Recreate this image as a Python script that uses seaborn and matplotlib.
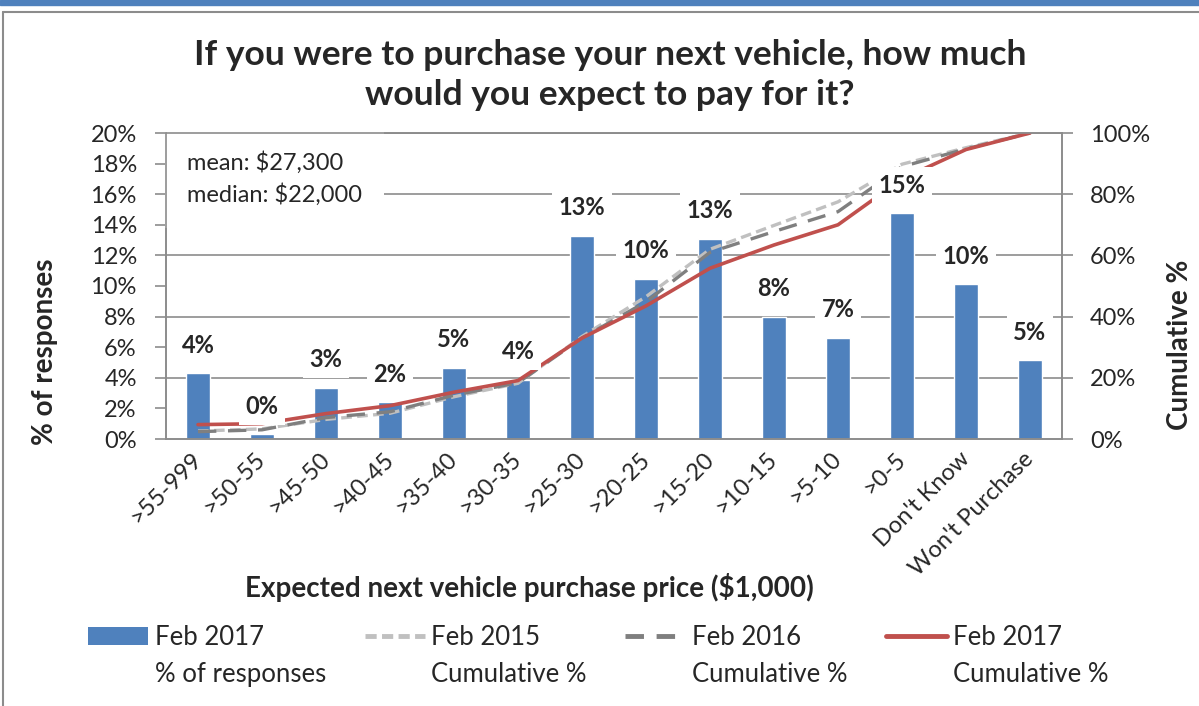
import numpy as np
import pandas as pd
import matplotlib
matplotlib.use("Agg")
import matplotlib.pyplot as plt
import seaborn as sns
from matplotlib.lines import Line2D
from matplotlib.patches import Patch, Rectangle

# datos
categorias = ['>55-999', '>50-55', '>45-50', '>40-45', '>35-40', '>30-35', '>25-30',
              '>20-25', '>15-20', '>10-15', '>5-10', '>0-5', "Don't Know", "Won't Purchase"]
respuestas_2017 = [4.3, 0.3, 3.35, 2.4, 4.65, 3.85, 13.3, 10.45, 13.1, 8.0, 6.6, 14.75, 10.1, 5.15]
acumulado_2015 = [2.6, 3.3, 6.4, 8.4, 13.8, 18.2, 33.5, 46.5, 62.0, 69.8, 77.5, 89.8, 95.2, 100]
acumulado_2016 = [2.4, 3.0, 7.0, 8.9, 14.3, 18.4, 33.0, 44.8, 61.0, 67.8, 74.3, 89.0, 94.8, 100]
acumulado_2017 = [4.7, 5.0, 8.3, 10.9, 15.3, 19.1, 33.0, 43.5, 55.8, 63.4, 70.0, 85.0, 94.6, 100]

AZUL = '#4F81BD'
ROJO = '#C0504D'
GRIS_CLARO = '#C0C0C0'
GRIS_OSCURO = '#7F7F7F'
GRID = '#8C8C8C'

sns.set_style("white")
plt.rcParams['font.family'] = ['Lato', 'DejaVu Sans']

fig = plt.figure(figsize=(11.99, 7.06), dpi=100)
ax = fig.add_axes([166 / 1199, 1 - 439 / 706, 896 / 1199, 306 / 706])

df = pd.DataFrame({'categoria': categorias, 'pct': respuestas_2017})
sns.barplot(data=df, x='categoria', y='pct', ax=ax, color=AZUL, saturation=1,
            width=0.39, zorder=2)
for v in range(4, 21, 4):
    ax.axhline(v, color=GRID, lw=1.2, zorder=0.5)

# cuadro de media y mediana
ax.text(0.0234, 0.94, 'mean: $27,300\nmedian: $22,000', transform=ax.transAxes,
        ha='left', va='top', fontsize=17, linespacing=1.5, zorder=3,
        bbox=dict(facecolor='white', edgecolor='none', pad=16))

# eje derecho acumulado
pos = np.arange(len(categorias))
ax2 = ax.twinx()
sns.lineplot(x=pos, y=acumulado_2015, ax=ax2, color=GRIS_CLARO, lw=2.4,
             linestyle=(0, (3.2, 1.6)), zorder=2)
sns.lineplot(x=pos, y=acumulado_2016, ax=ax2, color=GRIS_OSCURO, lw=2.4,
             linestyle=(0, (5.5, 3.5)), zorder=2.1)
sns.lineplot(x=pos, y=acumulado_2017, ax=ax2, color=ROJO, lw=2.6, zorder=2.2)

# etiquetas de las barras (tapan las lineas como en Excel)
for i, v in enumerate(respuestas_2017):
    ax2.annotate(f'{v:.0f}%', xy=(i, v), xycoords=ax.transData, xytext=(0, 12),
                 textcoords='offset points', ha='center', va='bottom',
                 fontsize=17, fontweight='bold', zorder=5,
                 bbox=dict(facecolor='white', edgecolor='none', pad=5))

# ejes y ticks (al final para que seaborn no los cambie)
ax.set_xlim(-0.5, len(categorias) - 0.5)
ax.set_ylim(0, 20)
ax.set_yticks(np.arange(0, 21, 2))
ax.set_yticklabels([f'{v}%' for v in range(0, 21, 2)], fontsize=17)
ax.set_xticks(np.arange(-0.5, len(categorias), 1))
ax.set_xticklabels([])
ax.set_xticks(pos, minor=True)
ax.set_xticklabels(categorias, minor=True, rotation=45, ha='right', va='center',
                   rotation_mode='anchor', fontsize=17)
ax.tick_params(axis='x', which='minor', length=0, pad=12)
ax.tick_params(axis='x', which='major', length=6, color=GRID, width=1.2, direction='out')
ax.tick_params(axis='y', length=8, color=GRID, width=1.2, direction='out', pad=13)
ax.set_xlabel('')
ax.set_ylabel('')

ax2.set_ylim(0, 100)
ax2.set_yticks(np.arange(0, 101, 20))
ax2.set_yticklabels([f'{v}%' for v in range(0, 101, 20)], fontsize=17)
ax2.tick_params(axis='y', length=8, color=GRID, width=1.2, direction='out', pad=12)
ax2.set_ylabel('')
for a in (ax, ax2):
    for s in a.spines.values():
        s.set_color(GRID)
        s.set_linewidth(1.2)

fig.text(610 / 1199, 1 - 75 / 706, 'If you were to purchase your next vehicle, how much\nwould you expect to pay for it?',
         ha='center', va='center', fontsize=25.5, fontweight='bold', linespacing=1.3)
fig.text(529 / 1199, 1 - 588 / 706, 'Expected next vehicle purchase price ($1,000)',
         ha='center', va='center', fontsize=20, fontweight='bold')
fig.text(45 / 1199, 1 - 352 / 706, '% of responses', rotation=90, ha='center',
         va='center', fontsize=20, fontweight='bold')
fig.text(1180 / 1199, 1 - 345 / 706, 'Cumulative %', rotation=90, ha='center',
         va='center', fontsize=20, fontweight='bold')

# leyenda: segunda fila con manijas invisibles
vacio = Patch(facecolor='none', edgecolor='none')
handles = [Patch(facecolor=AZUL, edgecolor='none'), vacio,
           Line2D([], [], color=GRIS_CLARO, lw=3.5, linestyle=(0, (2.3, 1.1))), vacio,
           Line2D([], [], color=GRIS_OSCURO, lw=3.5, linestyle=(0, (3.8, 2.6))), vacio,
           Line2D([], [], color=ROJO, lw=3.5), vacio]
labels = ['Feb 2017', '% of responses', 'Feb 2015', 'Cumulative %',
          'Feb 2016', 'Cumulative %', 'Feb 2017', 'Cumulative %']
leg = fig.legend(handles, labels, ncol=4, loc='upper left',
                 bbox_to_anchor=(88 / 1199, 1 - 625 / 706), frameon=False,
                 borderpad=0, borderaxespad=0,
                 fontsize=18.5, handlelength=2.35, handletextpad=0.25,
                 columnspacing=1.5, labelspacing=0.48)

# marco del grafico
fig.patches.append(Rectangle((0, 1 - 5 / 706), 1, 5 / 706, transform=fig.transFigure,
                             color=AZUL, zorder=0))
fig.lines.append(Line2D([3 / 1199, 1], [1 - 12 / 706, 1 - 12 / 706],
                        transform=fig.transFigure, color='#8C8C8C', lw=1.5))
fig.lines.append(Line2D([3 / 1199, 3 / 1199], [0, 1 - 12 / 706],
                        transform=fig.transFigure, color='#8C8C8C', lw=1.5))

fig.savefig('out.png', dpi=100)
